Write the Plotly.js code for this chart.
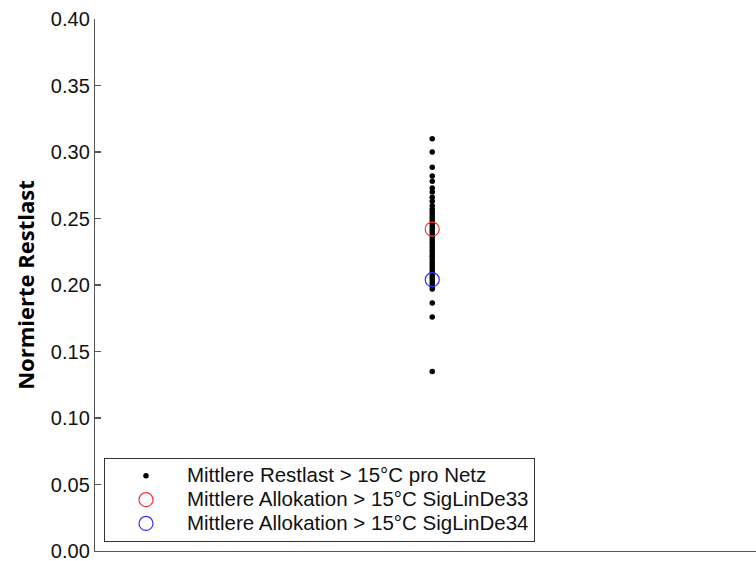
<!DOCTYPE html>
<html>
<head>
<meta charset="utf-8">
<script src="https://cdn.plot.ly/plotly-3.0.1.min.js"></script>
<style>
  html, body { margin: 0; padding: 0; background: #fff; }
  #chart { width: 756px; height: 561px; }
</style>
</head>
<body>
<div id="chart"></div>
<script>
// Mean residual load above 15 °C, one value per network (normalised)
const restlastProNetz = [
  0.310, 0.300, 0.2885, 0.282, 0.278, 0.273, 0.270, 0.266, 0.263, 0.2595,
  0.257, 0.255, 0.253, 0.251, 0.249, 0.247, 0.246, 0.244, 0.242, 0.240,
  0.238, 0.236, 0.234, 0.232, 0.230, 0.228, 0.226, 0.224, 0.222, 0.221,
  0.219, 0.217, 0.215, 0.213, 0.211, 0.209, 0.207, 0.205, 0.203, 0.201,
  0.199, 0.197, 0.1865, 0.176, 0.135
];
// Mean allocation above 15 °C for the two profile variants
const allokationSigLinDe33 = [0.242];
const allokationSigLinDe34 = [0.204];

const seriesNames = [
  "Mittlere Restlast > 15°C pro Netz",
  "Mittlere Allokation > 15°C SigLinDe33",
  "Mittlere Allokation > 15°C SigLinDe34"
];
const yTickVals = [0, 0.05, 0.10, 0.15, 0.20, 0.25, 0.30, 0.35, 0.40];
const yTickText = ["0.00", "0.05", "0.10", "0.15", "0.20", "0.25", "0.30", "0.35", "0.40"];
const yAxisTitle = "Normierte Restlast";

const xPos = v => v.map(() => 1);
// Legend labels are set in a larger span so the rows stay compact
const legendLabel = s => '<span style="font-size:20.5px">' + s + '</span>';

const traces = [
  {
    x: xPos(restlastProNetz), y: restlastProNetz, name: legendLabel(seriesNames[0]),
    type: "scatter", mode: "markers",
    marker: { color: "#000000", size: 5.5 }
  },
  {
    x: xPos(allokationSigLinDe33), y: allokationSigLinDe33, name: legendLabel(seriesNames[1]),
    type: "scatter", mode: "markers",
    marker: { symbol: "circle-open", color: "#ff3333", size: 14, line: { width: 1.2 } }
  },
  {
    x: xPos(allokationSigLinDe34), y: allokationSigLinDe34, name: legendLabel(seriesNames[2]),
    type: "scatter", mode: "markers",
    marker: { symbol: "circle-open", color: "#3333ff", size: 14, line: { width: 1.2 } }
  }
];

const layout = {
  width: 756, height: 561,
  margin: { l: 95, r: 0, t: 19, b: 10, pad: 0 },
  paper_bgcolor: "#ffffff", plot_bgcolor: "#ffffff",
  font: { family: "Liberation Sans, Arial, sans-serif", size: 20, color: "#111111" },
  showlegend: true,
  xaxis: {
    range: [0, 1.96], showgrid: false, zeroline: false,
    showticklabels: false, ticks: "",
    showline: true, linecolor: "#555555", linewidth: 1.2
  },
  yaxis: {
    range: [0, 0.40], tickvals: yTickVals, ticktext: yTickText,
    showgrid: false, zeroline: false,
    showline: true, linecolor: "#555555", linewidth: 1.2,
    ticks: "inside", ticklen: 6, tickcolor: "#555555", tickwidth: 1.2,
    ticklabeloverflow: "allow",
    tickfont: { size: 20, color: "#111111" },
    title: { text: yAxisTitle, font: { family: "Open Sans, Liberation Sans, sans-serif", size: 22, color: "#000000", weight: "bold" }, standoff: 10 }
  },
  legend: {
    x: 0.0136, y: 0.017, xanchor: "left", yanchor: "bottom",
    bgcolor: "#ffffff", bordercolor: "#333333", borderwidth: 1,
    font: { size: 16, color: "#111111" },
    itemwidth: 72, tracegroupgap: 0
  }
};

Plotly.newPlot("chart", traces, layout, { displayModeBar: false, staticPlot: true });
</script>
</body>
</html>
